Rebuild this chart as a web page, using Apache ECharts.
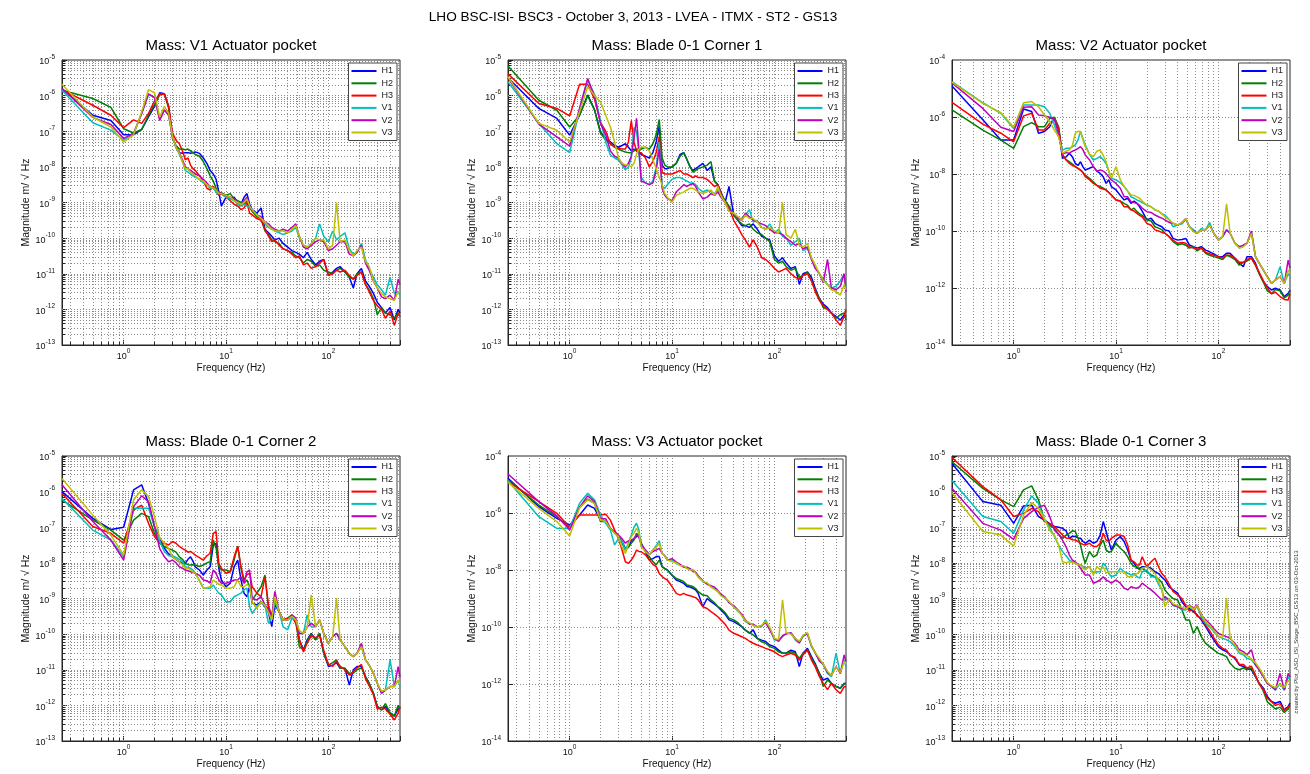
<!DOCTYPE html>
<html>
<head>
<meta charset="utf-8">
<script src="https://cdn.jsdelivr.net/npm/echarts@6/dist/echarts.min.js"></script>
<style>
  html, body { margin: 0; padding: 0; background: #fff; }
  #chart { width: 1310px; height: 774px; }
</style>
</head>
<body>
<div id="chart"></div>
<script>
// Frequency bins (Hz) shared by every spectrum
const FREQ = [
  0.25,0.5,0.75,1, 1.25,1.5,1.75,2, 2.25,2.5,2.75,3, 3.25,3.5,3.75,4,
  4.25,4.5,4.75,5, 5.5,6,6.5,7, 7.5,8,8.5,9,
  10,11,12,13,14, 15,16,17,18,
  20,22,24,26,28,30, 33,36,40,44,48,52,
  57,62,68,75,82,90, 100,110,120,130,145,160,
  175,190,210,230,250,275, 300,330,360,400,440,480,500
];

const CHANNELS = ['H1','H2','H3','V1','V2','V3'];
const CHANNEL_COLORS = ['#0000ff','#008000','#ff0000','#00bfbf','#bf00bf','#bfbf00'];
const MAIN_TITLE = 'LHO BSC-ISI- BSC3 - October 3, 2013 - LVEA - ITMX - ST2 - GS13';
const PANEL_TITLES = [
  'Mass: V1 Actuator pocket', 'Mass: Blade 0-1 Corner 1', 'Mass: V2 Actuator pocket',
  'Mass: Blade 0-1 Corner 2', 'Mass: V3 Actuator pocket', 'Mass: Blade 0-1 Corner 3'
];
const X_LABEL = 'Frequency (Hz)';
const Y_LABEL = 'Magnitude m/ \u221A Hz';
// Tick labels: powers of ten shown on each axis
const X_TICK_EXPONENTS = [0, 1, 2];
const Y_TICK_EXPONENTS_FINE = [-13,-12,-11,-10,-9,-8,-7,-6,-5];
const Y_TICK_EXPONENTS_COARSE = [-14,-12,-10,-8,-6,-4];

// ASD magnitudes, stored as log10(m/sqrt(Hz)), one value per FREQ bin

// V1 actuator pocket
const v1Pocket_H1 = [
  -5.8,-6.55,-6.7,-7.1, -7.1,-6.95,-6.6,-6.3, -5.92,-5.95,-6.3,-7.15, -7.45,-7.6,-7.62,-7.6,
  -7.6,-7.62,-7.6,-7.58, -7.62,-7.75,-7.9,-8.1, -8.2,-8.35,-8.7,-9.1,
  -8.85,-8.9,-8.85,-9.0,-9.05, -8.85,-8.75,-9.05,-9.2,
  -9.3,-9.15,-9.75,-9.85,-9.95,-10.05, -10.0,-10.15,-10.25,-10.35,-10.4,-10.45,
  -10.55,-10.4,-10.6,-10.75,-10.65,-10.6, -11.05,-10.95,-10.85,-10.8,-10.95,-11.1,
  -11.4,-11.0,-10.85,-11.2,-11.35,-11.55, -11.8,-11.95,-12.1,-11.95,-12.3,-12.0,-12.1];
const v1Pocket_H2 = [
  -5.85,-6.08,-6.33,-6.93, -7.05,-6.95,-6.55,-6.25, -5.98,-5.95,-6.35,-7.2, -7.4,-7.5,-7.5,-7.52,
  -7.5,-7.55,-7.6,-7.65, -7.7,-7.85,-8.05,-8.25, -8.4,-8.6,-8.75,-8.72,
  -8.8,-8.75,-8.9,-8.95,-9.0, -9.05,-8.95,-9.15,-9.25,
  -9.4,-9.45,-9.8,-9.9,-10.05,-10.1, -10.15,-10.3,-10.35,-10.4,-10.5,-10.55,
  -10.7,-10.6,-10.65,-10.8,-10.75,-10.9, -10.95,-11.0,-10.9,-10.85,-10.95,-11.1,
  -11.15,-11.0,-10.95,-11.3,-11.45,-11.7, -12.15,-11.95,-12.1,-12.15,-12.25,-12.1,-12.2];
const v1Pocket_H3 = [
  -5.83,-6.27,-6.55,-6.9, -6.68,-6.78,-6.5,-6.15, -5.95,-5.97,-6.3,-7.05, -7.25,-7.35,-7.55,-7.8,
  -7.75,-7.95,-8.05,-8.1, -8.25,-8.4,-8.6,-8.65, -8.55,-8.7,-8.8,-8.75,
  -8.85,-8.95,-9.05,-9.1,-9.2, -9.15,-9.0,-9.3,-9.35,
  -9.45,-9.5,-9.75,-9.95,-10.1,-10.05, -10.2,-10.3,-10.35,-10.45,-10.55,-10.5,
  -10.75,-10.7,-10.85,-10.8,-10.7,-10.6, -11.05,-11.0,-10.9,-10.95,-10.9,-11.05,
  -11.15,-11.05,-10.95,-11.3,-11.5,-11.75, -11.9,-12.0,-12.25,-12.05,-12.45,-12.1,-12.2];
const v1Pocket_V1 = [
  -5.85,-6.76,-6.97,-7.25, -7.08,-6.5,-5.97,-6.05, -6.65,-6.4,-6.55,-7.15, -7.45,-7.65,-7.85,-8.1,
  -8.15,-8.2,-8.25,-8.28, -8.35,-8.45,-8.5,-8.6, -8.6,-8.7,-8.75,-8.75,
  -8.85,-8.9,-8.95,-9.05,-9.1, -9.05,-9.1,-9.15,-9.2,
  -9.35,-9.45,-9.6,-9.7,-9.75,-9.8, -9.85,-9.9,-9.85,-9.8,-9.7,-10.0,
  -10.2,-10.25,-10.15,-10.0,-9.6,-9.95, -10.1,-9.8,-10.05,-9.95,-9.85,-10.3,
  -10.45,-10.4,-10.15,-10.6,-10.85,-11.1, -11.3,-11.45,-11.6,-11.1,-11.55,-11.5,-11.6];
const v1Pocket_V2 = [
  -5.8,-6.61,-6.81,-7.2, -7.06,-6.5,-5.95,-6.05, -6.7,-6.4,-6.55,-7.15, -7.45,-7.6,-7.8,-8.0,
  -8.05,-8.1,-8.15,-8.2, -8.25,-8.35,-8.45,-8.55, -8.6,-8.65,-8.7,-8.75,
  -8.8,-8.85,-8.9,-9.0,-9.05, -8.95,-8.85,-9.1,-9.2,
  -9.35,-9.4,-9.55,-9.6,-9.7,-9.75, -9.8,-9.75,-9.8,-9.7,-9.6,-9.95,
  -10.25,-10.3,-10.2,-10.1,-10.05,-10.1, -10.35,-10.3,-10.2,-10.1,-10.1,-10.45,
  -10.5,-10.4,-10.2,-10.7,-10.9,-11.2, -11.4,-11.65,-11.7,-11.6,-11.75,-11.15,-11.3];
const v1Pocket_V3 = [
  -5.68,-6.6,-6.88,-7.3, -7.1,-6.45,-5.83,-5.92, -6.6,-6.3,-6.5,-7.15, -7.45,-7.62,-7.85,-8.05,
  -8.05,-8.15,-8.2,-8.25, -8.35,-8.4,-8.5,-8.55, -8.6,-8.65,-8.75,-8.75,
  -8.8,-8.85,-8.95,-9.0,-9.05, -9.0,-8.9,-9.1,-9.2,
  -9.35,-9.45,-9.55,-9.65,-9.75,-9.8, -9.8,-9.8,-9.85,-9.75,-9.65,-9.95,
  -10.2,-10.25,-10.15,-10.0,-10.05,-10.05, -10.3,-10.2,-9.0,-10.1,-10.05,-10.35,
  -10.5,-10.35,-10.25,-10.65,-10.8,-11.2, -11.4,-11.55,-11.65,-11.7,-11.75,-11.5,-11.5];

// Blade 0-1 corner 1
const corner1_H1 = [
  -5.5,-6.36,-6.64,-7.11, -6.55,-5.98,-6.4,-7.02, -7.2,-7.3,-7.4,-7.45, -7.4,-7.35,-7.45,-7.55,
  -7.5,-7.55,-7.6,-7.65, -7.7,-7.75,-7.6,-7.3, -6.85,-7.95,-8.05,-8.05,
  -8.0,-7.9,-7.65,-7.6,-7.8, -8.0,-8.1,-8.05,-8.0,
  -7.9,-8.1,-8.0,-8.4,-8.5,-8.7, -9.0,-8.55,-9.35,-9.5,-9.65,-9.65,
  -9.7,-9.6,-9.75,-9.95,-10.0,-10.05, -10.5,-10.65,-10.55,-10.7,-10.85,-10.8,
  -11.3,-11.0,-10.95,-11.1,-11.4,-11.7, -11.85,-11.95,-12.1,-12.2,-12.3,-12.15,-12.2];
const corner1_H2 = [
  -5.17,-6.13,-6.41,-6.88, -6.55,-6.0,-6.4,-7.05, -7.25,-7.35,-7.45,-7.5, -7.55,-7.58,-7.6,-7.6,
  -7.55,-7.5,-7.5,-7.5, -7.45,-7.5,-7.35,-7.1, -6.67,-7.75,-7.95,-8.0,
  -8.0,-7.9,-7.7,-7.6,-7.8, -8.0,-8.15,-8.1,-8.05,
  -8.0,-7.95,-7.85,-8.4,-8.5,-8.75, -8.95,-9.1,-9.35,-9.5,-9.6,-9.65,
  -9.6,-9.75,-9.85,-9.9,-10.0,-10.1, -10.6,-10.7,-10.65,-10.8,-10.9,-10.85,
  -11.1,-11.05,-10.95,-11.2,-11.45,-11.7, -11.95,-12.0,-12.1,-12.25,-12.15,-12.1,-12.3];
const corner1_H3 = [
  -5.39,-6.22,-6.36,-6.57, -5.68,-5.68,-6.1,-6.75, -7.0,-7.35,-7.45,-7.48, -7.5,-7.5,-7.3,-6.7,
  -7.3,-7.55,-7.6,-7.6, -7.75,-8.0,-7.85,-7.6, -7.15,-8.15,-8.2,-8.2,
  -8.2,-8.15,-8.1,-8.2,-8.2, -8.25,-8.3,-8.25,-8.3,
  -8.3,-8.35,-8.45,-8.55,-8.5,-8.75, -9.0,-9.15,-9.5,-9.7,-9.9,-10.05,
  -10.25,-10.05,-10.25,-10.55,-10.6,-10.7, -10.85,-10.95,-10.9,-10.85,-11.0,-11.1,
  -11.15,-11.05,-11.0,-11.2,-11.5,-11.75, -11.9,-12.0,-12.1,-12.3,-12.45,-12.2,-12.0];
const corner1_V1 = [
  -5.61,-6.78,-7.35,-7.6, -6.4,-5.56,-5.97,-6.7, -7.3,-7.67,-7.75,-7.81, -7.95,-8.08,-8.0,-7.75,
  -6.9,-7.0,-7.6,-8.3, -8.45,-8.5,-8.4,-8.0, -7.3,-8.55,-8.6,-8.5,
  -8.35,-8.3,-8.3,-8.35,-8.4, -8.45,-8.45,-8.5,-8.6,
  -8.7,-8.65,-8.7,-8.75,-8.65,-8.8, -9.0,-9.2,-9.3,-9.45,-9.45,-9.35,
  -9.2,-9.55,-9.5,-9.7,-9.75,-9.6, -9.85,-9.75,-9.95,-10.0,-10.2,-10.1,
  -10.0,-10.35,-10.3,-10.55,-10.8,-11.0, -11.15,-11.3,-11.4,-11.35,-11.2,-11.0,-11.4];
const corner1_V2 = [
  -5.5,-6.8,-7.16,-7.42, -6.35,-5.52,-6.03,-6.78, -7.1,-7.55,-7.7,-7.76, -7.9,-8.0,-7.9,-7.7,
  -7.2,-6.64,-7.5,-8.4, -8.45,-8.5,-8.45,-8.1, -7.5,-8.6,-8.8,-8.89,
  -8.95,-8.7,-8.6,-8.5,-8.55, -8.5,-8.47,-8.55,-8.7,
  -8.9,-8.85,-8.75,-8.8,-8.7,-8.85, -9.0,-9.2,-9.3,-9.45,-9.5,-9.3,
  -9.4,-9.5,-9.55,-9.6,-9.65,-9.75, -9.85,-9.85,-9.9,-10.0,-10.1,-10.2,
  -10.15,-10.3,-10.25,-10.6,-10.85,-11.0, -11.25,-10.6,-11.4,-11.45,-11.35,-11.0,-11.5];
const corner1_V3 = [
  -5.47,-6.78,-6.97,-7.3, -6.45,-5.75,-6.0,-6.17, -6.55,-6.88,-7.3,-7.75, -7.9,-7.95,-7.95,-8.0,
  -7.9,-7.65,-7.5,-7.44, -7.45,-7.55,-7.8,-8.05, -8.3,-8.5,-8.75,-8.85,
  -8.99,-8.8,-8.75,-8.7,-8.65, -8.6,-8.6,-8.65,-8.7,
  -8.75,-8.7,-8.65,-8.8,-8.55,-8.8, -9.0,-9.25,-9.3,-9.4,-9.5,-9.35,
  -9.45,-9.45,-9.55,-9.7,-9.75,-9.7, -9.8,-9.85,-9.0,-9.9,-10.0,-9.75,
  -10.2,-10.25,-10.15,-10.55,-10.75,-11.0, -11.2,-11.3,-11.45,-11.5,-11.6,-11.3,-11.45];

// V2 actuator pocket
const v2Pocket_H1 = [
  -4.91,-6.1,-6.81,-6.81, -5.72,-5.81,-6.57,-6.51, -6.34,-6.01,-6.46,-7.45, -7.4,-7.27,-7.4,-7.63,
  -7.7,-7.57,-7.75,-7.86, -7.8,-7.74,-7.9,-7.98, -8.1,-8.33,-8.2,-8.44,
  -8.56,-8.75,-8.91,-8.85,-9.03, -8.95,-9.03,-9.15,-9.3,
  -9.61,-9.55,-9.73,-9.8,-9.85,-9.96, -10.0,-10.26,-10.32,-10.3,-10.26,-10.49,
  -10.55,-10.6,-10.55,-10.67,-10.73,-10.8, -10.9,-10.9,-10.78,-10.78,-10.96,-11.13,
  -11.25,-10.9,-10.9,-11.13,-11.49,-11.78, -11.95,-12.07,-12.01,-12.07,-12.3,-12.19,-12.07];
const v2Pocket_H2 = [
  -5.75,-6.46,-6.81,-7.1, -6.34,-6.2,-6.34,-6.34, -6.05,-6.01,-6.34,-7.33, -7.5,-7.57,-7.65,-7.74,
  -7.8,-7.86,-7.95,-8.04, -8.15,-8.27,-8.4,-8.44, -8.5,-8.56,-8.65,-8.74,
  -8.91,-8.95,-9.03,-9.1,-9.26, -9.2,-9.32,-9.4,-9.45,
  -9.61,-9.65,-9.85,-9.9,-9.95,-10.08, -10.2,-10.37,-10.49,-10.45,-10.5,-10.6,
  -10.55,-10.7,-10.6,-10.78,-10.85,-10.9, -10.95,-11.0,-10.85,-10.9,-11.0,-11.2,
  -11.1,-11.05,-10.95,-11.2,-11.5,-11.8, -12.1,-12.2,-12.05,-12.1,-12.35,-12.25,-12.1];
const v2Pocket_H3 = [
  -5.49,-6.25,-6.57,-6.87, -5.96,-5.87,-6.46,-6.46, -6.22,-6.08,-6.4,-7.33, -7.5,-7.63,-7.7,-7.74,
  -7.8,-7.86,-7.95,-8.09, -8.2,-8.33,-8.4,-8.5, -8.53,-8.56,-8.65,-8.74,
  -8.91,-8.95,-9.15,-9.15,-9.26, -9.3,-9.38,-9.45,-9.5,
  -9.73,-9.8,-9.96,-10.0,-10.05,-10.08, -10.2,-10.32,-10.43,-10.4,-10.43,-10.55,
  -10.6,-10.65,-10.6,-10.75,-10.8,-10.85, -10.9,-10.95,-10.85,-10.85,-10.95,-11.1,
  -11.1,-11.0,-10.95,-11.2,-11.45,-11.75, -12.0,-12.2,-12.15,-12.3,-12.4,-12.42,-12.2];
const v2Pocket_V1 = [
  -4.76,-5.5,-5.87,-6.4, -5.58,-5.58,-5.58,-5.64, -5.87,-6.28,-6.69,-7.16, -7.1,-7.1,-7.05,-6.98,
  -6.8,-6.51,-6.75,-6.98, -7.3,-7.51,-7.45,-7.39, -7.5,-7.63,-7.9,-8.15,
  -8.21,-8.3,-8.44,-8.6,-8.8, -8.85,-8.91,-8.95,-9.0,
  -9.09,-9.15,-9.26,-9.3,-9.4,-9.44, -9.6,-9.85,-9.79,-9.75,-9.6,-9.85,
  -9.95,-10.08,-9.91,-9.96,-9.7,-10.08, -10.3,-10.2,-9.96,-10.08,-10.43,-10.6,
  -10.5,-10.43,-10.05,-10.9,-11.13,-11.37, -11.6,-11.84,-11.72,-11.25,-11.84,-11.5,-11.6];
const v2Pocket_V2 = [
  -4.8,-5.7,-6.36,-6.51, -5.66,-5.64,-5.93,-5.96, -6.01,-6.08,-6.6,-7.3, -7.25,-7.27,-7.2,-7.16,
  -7.1,-7.04,-7.15,-7.33, -7.5,-7.74,-7.9,-7.86, -7.9,-7.98,-8.1,-8.21,
  -8.33,-8.5,-8.8,-8.8,-8.97, -9.0,-9.03,-9.1,-9.2,
  -9.32,-9.35,-9.44,-9.5,-9.55,-9.61, -9.7,-9.73,-9.79,-9.7,-9.56,-9.85,
  -10.0,-10.08,-9.96,-9.96,-9.79,-10.08, -10.32,-10.2,-9.96,-10.08,-10.43,-10.55,
  -10.5,-10.43,-10.0,-10.9,-11.13,-11.37, -11.6,-11.84,-11.72,-11.6,-11.84,-11.02,-11.3];
const v2Pocket_V3 = [
  -4.78,-5.52,-5.85,-6.36, -5.5,-5.46,-5.64,-5.93, -6.16,-6.46,-6.69,-7.27, -7.2,-7.16,-7.0,-6.57,
  -6.5,-6.51,-6.8,-7.04, -7.3,-7.39,-7.2,-7.16, -7.35,-7.57,-7.9,-8.15,
  -7.74,-8.2,-8.44,-8.6,-8.74, -8.75,-8.8,-8.85,-8.95,
  -9.09,-9.15,-9.26,-9.3,-9.4,-9.5, -9.6,-9.73,-9.79,-9.7,-9.56,-9.85,
  -10.02,-10.08,-9.96,-9.96,-9.79,-10.08, -10.32,-10.2,-9.05,-10.08,-10.43,-10.6,
  -10.55,-10.43,-10.08,-10.9,-11.13,-11.37, -11.6,-11.84,-11.72,-11.6,-11.84,-11.37,-11.49];

// Blade 0-1 corner 2
const corner2_H1 = [
  -6.0,-6.75,-7.06,-7.0, -5.95,-5.81,-6.33,-6.98, -7.3,-7.59,-7.75,-7.83, -7.9,-7.97,-8.0,-8.01,
  -7.9,-7.83,-7.95,-8.11, -8.2,-8.34,-8.2,-8.11, -7.5,-7.45,-8.15,-8.48,
  -8.67,-8.57,-8.11,-7.92,-8.48, -8.85,-8.95,-8.67,-9.13,
  -9.18,-9.09,-9.23,-9.4,-9.79,-9.18, -9.37,-9.6,-9.6,-9.51,-9.6,-10.16,
  -10.44,-10.16,-9.98,-10.16,-9.98,-10.54, -10.91,-10.87,-10.8,-10.96,-10.96,-11.43,
  -11.0,-10.91,-10.91,-11.19,-11.38,-11.66, -12.03,-12.13,-12.03,-12.22,-12.3,-12.1,-12.05];
const corner2_H2 = [
  -6.23,-6.8,-7.08,-7.36, -6.8,-6.61,-6.7,-7.17, -7.45,-7.54,-7.6,-7.64, -7.7,-7.83,-7.9,-8.01,
  -8.05,-8.06,-8.05,-8.06, -8.1,-8.06,-8.0,-7.97, -7.36,-7.59,-8.1,-8.2,
  -8.2,-8.25,-7.92,-7.53,-8.15, -8.57,-8.48,-8.67,-9.04,
  -8.85,-8.67,-8.34,-9.3,-9.51,-9.04, -9.37,-9.6,-9.55,-9.46,-9.6,-10.35,
  -10.44,-10.2,-10.0,-10.16,-9.98,-10.54, -10.87,-10.8,-10.72,-10.96,-10.96,-11.1,
  -11.1,-11.0,-10.95,-11.19,-11.38,-11.66, -12.03,-12.13,-11.95,-12.2,-12.3,-12.0,-12.1];
const corner2_H3 = [
  -6.05,-6.98,-7.17,-7.45, -6.52,-6.38,-6.89,-7.26, -7.45,-7.45,-7.5,-7.4, -7.45,-7.54,-7.6,-7.64,
  -7.7,-7.68,-7.73,-7.78, -7.85,-7.92,-7.8,-7.73, -7.17,-7.12,-8.01,-8.15,
  -8.29,-8.25,-7.83,-7.53,-8.11, -8.48,-8.34,-8.29,-8.67,
  -8.85,-8.95,-8.39,-9.2,-9.5,-8.99, -9.37,-9.6,-9.55,-9.51,-9.7,-10.16,
  -10.5,-10.25,-10.05,-10.1,-10.05,-10.45, -10.85,-10.9,-10.75,-10.9,-11.0,-11.15,
  -11.05,-10.95,-10.85,-11.25,-11.45,-11.7, -12.1,-12.05,-12.1,-12.25,-12.41,-12.22,-12.03];
const corner2_V1 = [
  -6.19,-7.08,-7.36,-7.83, -6.47,-6.47,-6.47,-6.98, -7.4,-7.68,-7.8,-7.8, -7.85,-7.9,-7.95,-8.11,
  -8.13,-8.15,-8.2,-8.29, -8.5,-8.71,-8.71,-8.71, -8.62,-8.75,-8.85,-8.9,
  -9.09,-9.09,-8.95,-8.9,-8.85, -8.75,-8.71,-9.23,-9.42,
  -9.23,-9.1,-9.2,-9.7,-9.55,-9.09, -9.37,-9.79,-9.88,-9.55,-9.6,-9.98,
  -9.98,-9.46,-9.8,-9.79,-9.6,-9.98, -10.26,-10.07,-9.98,-10.16,-10.35,-10.54,
  -10.63,-10.54,-10.35,-10.72,-10.87,-11.1, -11.38,-11.66,-11.57,-10.72,-11.47,-11.29,-11.47];
const corner2_V2 = [
  -5.81,-6.84,-7.36,-7.92, -6.42,-6.12,-6.28,-6.98, -7.6,-7.83,-7.97,-7.92, -8.0,-8.11,-8.15,-8.2,
  -8.22,-8.25,-8.27,-8.29, -8.35,-8.48,-8.5,-8.57, -8.2,-8.3,-8.48,-8.57,
  -8.57,-8.53,-8.48,-8.48,-8.39, -8.57,-8.25,-8.2,-9.0,
  -9.04,-8.95,-9.18,-9.3,-9.5,-8.8, -9.37,-9.6,-9.6,-9.46,-9.55,-9.98,
  -9.98,-9.8,-9.7,-9.79,-9.6,-9.98, -10.26,-10.07,-9.98,-10.16,-10.35,-10.54,
  -10.63,-10.54,-10.26,-10.72,-10.87,-11.1, -11.38,-11.66,-11.57,-11.47,-11.47,-10.91,-11.2];
const corner2_V3 = [
  -5.63,-6.66,-7.22,-7.78, -6.23,-5.95,-6.14,-6.7, -7.3,-7.45,-7.6,-7.83, -7.9,-7.97,-8.05,-8.15,
  -8.15,-8.2,-8.25,-8.29, -8.5,-8.71,-8.7,-8.67, -8.48,-8.55,-8.6,-8.62,
  -8.71,-8.71,-8.67,-8.48,-8.67, -8.67,-8.6,-8.67,-9.1,
  -9.28,-9.09,-9.2,-9.4,-9.6,-8.95, -9.37,-9.6,-9.6,-9.5,-9.6,-9.9,
  -9.98,-9.8,-8.9,-9.79,-9.6,-9.98, -10.26,-10.07,-8.99,-10.16,-10.35,-10.54,
  -10.63,-10.54,-10.35,-10.72,-10.87,-11.1, -11.38,-11.6,-11.57,-11.47,-11.47,-11.29,-11.4];

// V3 actuator pocket
const v3Pocket_H1 = [
  -4.78,-5.78,-6.19,-6.42, -6.07,-5.72,-5.84,-6.25, -6.3,-6.54,-6.7,-6.83, -7.0,-7.24,-7.2,-6.98,
  -6.9,-6.83,-6.8,-7.06, -7.36,-7.65,-7.6,-7.53, -7.53,-7.88,-7.95,-8.0,
  -8.18,-8.35,-8.41,-8.47,-8.58, -8.6,-8.64,-8.7,-8.82,
  -9.29,-9.0,-9.11,-9.2,-9.29,-9.4, -9.55,-9.75,-9.81,-9.9,-9.99,-10.11,
  -10.22,-10.1,-10.4,-10.46,-10.51,-10.63, -10.69,-10.81,-10.92,-10.92,-10.81,-10.87,
  -11.39,-10.92,-10.75,-11.04,-11.28,-11.63, -11.86,-11.8,-11.98,-12.09,-12.15,-11.98,-11.98];
const v3Pocket_H2 = [
  -4.84,-5.72,-6.13,-6.54, -5.8,-5.51,-5.66,-6.3, -6.3,-6.54,-6.7,-6.83, -7.05,-7.3,-7.2,-7.06,
  -6.95,-6.71,-6.8,-7.06, -7.36,-7.53,-7.7,-7.82, -7.65,-7.88,-7.95,-8.0,
  -8.18,-8.3,-8.35,-8.41,-8.53, -8.55,-8.58,-8.65,-8.76,
  -8.88,-8.9,-9.05,-9.15,-9.29,-9.35, -9.5,-9.69,-9.75,-9.85,-9.99,-10.11,
  -10.2,-10.28,-10.4,-10.52,-10.57,-10.69, -10.75,-10.87,-10.92,-10.92,-10.87,-10.92,
  -11.1,-10.92,-10.81,-11.1,-11.33,-11.63, -12.09,-11.86,-11.98,-12.09,-12.15,-11.98,-11.98];
const v3Pocket_H3 = [
  -4.9,-5.6,-6.01,-6.5, -6.07,-6.07,-6.07,-6.07, -6.04,-6.25,-6.6,-6.89, -7.3,-7.71,-7.77,-7.65,
  -7.5,-7.3,-7.35,-7.36, -7.47,-7.65,-7.8,-7.88, -8.12,-8.23,-8.3,-8.35,
  -8.58,-8.82,-8.88,-8.82,-8.88, -8.9,-8.94,-8.97,-9.05,
  -9.29,-9.35,-9.46,-9.55,-9.64,-9.75, -9.9,-10.11,-10.22,-10.28,-10.34,-10.4,
  -10.5,-10.57,-10.63,-10.69,-10.75,-10.8, -10.87,-10.98,-11.04,-10.98,-10.92,-10.98,
  -11.16,-10.98,-10.81,-11.16,-11.39,-11.74, -11.98,-12.2,-11.98,-12.2,-12.33,-12.09,-12.1];
const v3Pocket_V1 = [
  -4.87,-6.13,-6.54,-6.54, -5.66,-5.31,-5.54,-6.07, -6.36,-6.6,-7.12,-6.89, -7.0,-7.3,-7.05,-6.77,
  -6.5,-6.36,-6.6,-7.18, -7.3,-7.47,-7.3,-7.15, -6.97,-7.42,-7.5,-7.65,
  -7.65,-7.77,-7.82,-7.88,-7.94, -7.97,-8.0,-8.1,-8.23,
  -8.41,-8.47,-8.58,-8.65,-8.76,-8.88, -9.0,-9.11,-9.29,-9.45,-9.58,-9.81,
  -9.87,-9.93,-9.99,-9.99,-9.75,-10.05, -10.46,-10.46,-10.34,-10.22,-10.22,-10.46,
  -10.57,-10.34,-10.22,-10.69,-10.92,-11.16, -11.33,-11.63,-11.74,-10.92,-11.63,-11.16,-11.4];
const v3Pocket_V2 = [
  -4.63,-5.6,-6.1,-6.6, -5.8,-5.4,-5.6,-6.19, -6.2,-6.54,-6.65,-6.77, -6.9,-7.06,-6.98,-6.95,
  -6.9,-6.77,-6.85,-7.1, -7.3,-7.45,-7.35,-7.3, -7.24,-7.42,-7.5,-7.65,
  -7.6,-7.72,-7.8,-7.9,-7.9, -7.95,-8.05,-8.08,-8.2,
  -8.38,-8.5,-8.55,-8.6,-8.72,-8.85, -8.95,-9.15,-9.25,-9.4,-9.55,-9.75,
  -9.9,-9.9,-10.0,-9.95,-9.85,-10.1, -10.4,-10.5,-10.3,-10.25,-10.2,-10.4,
  -10.55,-10.3,-10.25,-10.65,-10.9,-11.2, -11.3,-11.6,-11.7,-11.39,-11.63,-10.98,-11.2];
const v3Pocket_V3 = [
  -4.92,-5.84,-6.3,-6.81, -5.82,-5.54,-5.66,-6.25, -6.3,-6.54,-6.71,-6.83, -7.2,-7.42,-7.1,-6.83,
  -6.7,-6.54,-6.7,-7.18, -7.36,-7.47,-7.3,-7.2, -7.06,-7.42,-7.5,-7.65,
  -7.7,-7.75,-7.85,-7.85,-7.95, -8.0,-7.98,-8.12,-8.25,
  -8.4,-8.45,-8.6,-8.68,-8.75,-8.9, -8.98,-9.1,-9.3,-9.42,-9.6,-9.78,
  -9.85,-9.95,-10.0,-9.95,-9.8,-10.0, -10.4,-10.45,-9.05,-10.2,-10.25,-10.4,
  -10.5,-10.3,-10.2,-10.65,-10.9,-11.1, -11.3,-11.55,-11.7,-11.4,-11.6,-11.2,-11.3];

// Blade 0-1 corner 3
const corner3_H1 = [
  -5.21,-6.28,-6.38,-6.89, -6.4,-6.38,-6.7,-6.8, -6.9,-6.98,-7.0,-7.03, -7.1,-7.31,-7.25,-7.26,
  -7.3,-7.31,-7.4,-7.45, -7.36,-7.45,-7.4,-7.22, -6.84,-7.12,-7.4,-7.64,
  -7.36,-7.26,-7.4,-7.64,-7.92, -8.01,-8.15,-8.15,-8.11,
  -8.11,-8.15,-8.25,-8.3,-8.4,-8.48, -8.67,-8.76,-8.85,-9.09,-9.23,-9.28,
  -9.37,-9.46,-9.6,-9.79,-9.98,-10.16, -10.35,-10.44,-10.49,-10.58,-10.68,-10.87,
  -10.91,-10.96,-11.0,-11.19,-11.38,-11.52, -11.75,-11.89,-11.94,-11.89,-12.13,-12.03,-11.94];
const corner3_H2 = [
  -5.16,-5.91,-6.23,-6.42, -5.95,-5.84,-6.23,-6.8, -6.95,-7.03,-7.2,-7.31, -7.22,-7.17,-7.1,-7.12,
  -7.3,-7.5,-7.8,-8.01, -7.68,-7.83,-7.78,-7.5, -7.36,-7.64,-7.7,-7.68,
  -7.45,-7.59,-7.68,-7.83,-8.01, -8.1,-8.11,-8.2,-8.15,
  -8.25,-8.34,-8.39,-8.45,-8.55,-8.76, -8.9,-9.0,-9.04,-9.32,-9.6,-9.6,
  -9.98,-9.79,-10.07,-10.26,-10.35,-10.44, -10.54,-10.58,-10.63,-10.82,-10.96,-11.0,
  -10.95,-11.0,-10.95,-11.19,-11.38,-11.6, -11.9,-12.0,-12.1,-12.05,-12.2,-12.1,-12.0];
const corner3_H3 = [
  -5.04,-5.86,-6.23,-6.7, -6.61,-6.47,-6.56,-6.84, -6.9,-6.98,-7.1,-7.22, -7.3,-7.31,-7.35,-7.36,
  -7.4,-7.45,-7.48,-7.5, -7.45,-7.54,-7.54,-7.45, -7.17,-7.36,-7.4,-7.31,
  -7.22,-7.22,-7.26,-7.5,-7.92, -7.97,-8.06,-8.06,-7.83,
  -8.11,-7.97,-7.87,-8.11,-8.3,-8.39, -8.6,-8.8,-8.9,-9.0,-9.2,-9.35,
  -9.3,-9.5,-9.55,-9.75,-9.9,-10.1, -10.3,-10.4,-10.45,-10.6,-10.65,-10.85,
  -10.85,-10.95,-10.9,-11.15,-11.4,-11.55, -11.8,-11.9,-12.0,-11.95,-12.15,-12.05,-12.0];
const corner3_V1 = [
  -5.69,-6.7,-6.84,-7.17, -6.52,-6.12,-6.33,-6.8, -7.0,-7.26,-7.5,-7.68, -7.8,-7.92,-7.97,-8.01,
  -8.03,-8.06,-8.1,-8.15, -8.11,-8.29,-8.25,-8.25, -8.01,-8.11,-8.3,-8.39,
  -8.34,-8.15,-8.25,-8.29,-8.34, -8.3,-8.39,-8.43,-8.25,
  -8.2,-8.39,-8.39,-8.6,-8.76,-9.04, -9.0,-9.2,-9.23,-9.32,-9.32,-9.23,
  -9.32,-9.23,-9.51,-9.7,-9.79,-9.93, -10.07,-10.12,-10.16,-10.21,-10.35,-10.54,
  -10.58,-10.68,-10.72,-10.87,-11.0,-11.19, -11.38,-11.47,-11.57,-11.38,-11.57,-11.19,-11.29];
const corner3_V2 = [
  -5.91,-6.89,-7.08,-7.34, -6.75,-6.56,-6.44,-6.38, -6.7,-7.08,-7.2,-7.36, -7.55,-7.78,-7.92,-7.97,
  -8.05,-8.15,-8.25,-8.34, -8.34,-8.57,-8.53,-8.48, -8.39,-8.48,-8.52,-8.57,
  -8.48,-8.57,-8.71,-8.76,-8.67, -8.7,-8.71,-8.67,-8.57,
  -8.67,-8.76,-8.85,-8.95,-9.04,-8.95, -9.04,-9.18,-9.23,-9.28,-9.28,-9.18,
  -9.28,-9.18,-9.46,-9.6,-9.7,-9.84, -9.98,-10.03,-10.07,-10.12,-10.26,-10.44,
  -10.49,-10.58,-10.44,-10.87,-11.0,-11.19, -11.38,-11.47,-11.57,-11.1,-11.57,-11.1,-11.2];
const corner3_V3 = [
  -6.03,-7.12,-7.22,-7.53, -6.66,-6.31,-6.47,-6.75, -7.1,-7.22,-7.5,-7.97, -8.0,-7.97,-7.99,-8.01,
  -8.05,-8.06,-8.15,-8.2, -8.1,-8.34,-8.1,-8.2, -8.11,-8.29,-8.25,-8.25,
  -8.25,-8.25,-8.25,-8.39,-8.39, -8.35,-8.3,-8.25,-8.15,
  -8.11,-8.2,-8.29,-8.5,-8.76,-9.23, -9.0,-9.15,-9.2,-9.25,-9.3,-9.2,
  -9.3,-9.2,-9.45,-9.65,-9.75,-9.9, -10.05,-10.1,-8.99,-10.1,-10.3,-10.5,
  -10.55,-10.6,-10.7,-10.8,-10.95,-11.15, -11.35,-11.45,-11.5,-11.4,-11.5,-11.3,-11.35];

const PANEL_SERIES = [
  [v1Pocket_H1, v1Pocket_H2, v1Pocket_H3, v1Pocket_V1, v1Pocket_V2, v1Pocket_V3],
  [corner1_H1, corner1_H2, corner1_H3, corner1_V1, corner1_V2, corner1_V3],
  [v2Pocket_H1, v2Pocket_H2, v2Pocket_H3, v2Pocket_V1, v2Pocket_V2, v2Pocket_V3],
  [corner2_H1, corner2_H2, corner2_H3, corner2_V1, corner2_V2, corner2_V3],
  [v3Pocket_H1, v3Pocket_H2, v3Pocket_H3, v3Pocket_V1, v3Pocket_V2, v3Pocket_V3],
  [corner3_H1, corner3_H2, corner3_H3, corner3_V1, corner3_V2, corner3_V3]
];
// y-axis decade range and labelled decades for each panel
const PANEL_DECADES = [[-13,-5],[-13,-5],[-14,-4],[-13,-5],[-14,-4],[-13,-5]];
const PANEL_Y_TICKS = [Y_TICK_EXPONENTS_FINE, Y_TICK_EXPONENTS_FINE, Y_TICK_EXPONENTS_COARSE,
                       Y_TICK_EXPONENTS_FINE, Y_TICK_EXPONENTS_COARSE, Y_TICK_EXPONENTS_FINE];

PANEL_SERIES.forEach((set, p) => set.forEach((arr, c) => {
  if (arr.length !== FREQ.length) throw new Error('panel ' + p + ' ' + CHANNELS[c] + ' has ' + arr.length);
}));

// ---------- layout ----------
const FONT = '"Liberation Sans", Arial, Helvetica, sans-serif';
const PLOT_W = 338, PLOT_H = 285;
const COL_LEFT = [62, 508, 952];
const ROW_TOP = [60, 456];
const X_MIN = 0.25, X_MAX = 500;

const AXIS_COLOR = '#262626';
const GRID_LINE = { color: '#8a8a8a', type: [1, 2], width: 1 };
const TICK_LINE = { color: AXIS_COLOR, type: 'solid', width: 1 };

const powRich = {
  b: { fontSize: 9, fontFamily: FONT, color: '#111', lineHeight: 13, verticalAlign: 'bottom' },
  s: { fontSize: 6.5, fontFamily: FONT, color: '#111', lineHeight: 7, verticalAlign: 'top' }
};
function powLabel(value, allowed) {
  const e = Math.log10(value);
  const r = Math.round(e);
  if (Math.abs(e - r) > 0.01 || allowed.indexOf(r) < 0) return '';
  return '{b|10}{s|' + r + '}';
}

// Dotted log grid plus the small inward ticks at the 2..9 positions
function gridLineData(p) {
  const lines = [];
  const [lo, hi] = PANEL_DECADES[p];
  const yMin = Math.pow(10, lo);
  const dense = PANEL_Y_TICKS[p] === Y_TICK_EXPONENTS_FINE;
  const pxPerDecY = PLOT_H / (hi - lo);
  const pxPerDecX = PLOT_W / Math.log10(X_MAX / X_MIN);
  const tickY = len => yMin * Math.pow(10, len / pxPerDecY);
  const tickX = len => X_MIN * Math.pow(10, len / pxPerDecX);

  for (let d = -1; d <= 2; d++) {
    for (let k = 1; k <= 9; k++) {
      const v = k * Math.pow(10, d);
      if (v > X_MIN * 1.01 && v < X_MAX * 0.99) {
        lines.push({ xAxis: v });
        if (k !== 1) lines.push([{ coord: [v, yMin], lineStyle: TICK_LINE }, { coord: [v, tickY(3)] }]);
      }
    }
  }
  for (let d = lo; d < hi; d++) {
    if (dense) {
      for (let k = 1; k <= 9; k++) {
        if (k === 1 && d === lo) continue;
        const v = k * Math.pow(10, d);
        lines.push({ yAxis: v });
        if (k !== 1) lines.push([{ coord: [X_MIN, v], lineStyle: TICK_LINE }, { coord: [tickX(3), v] }]);
      }
    } else if (PANEL_Y_TICKS[p].indexOf(d) >= 0) {
      const v = Math.pow(10, d);
      if (d > lo) lines.push({ yAxis: v });
      lines.push([{ coord: [X_MIN, v], lineStyle: TICK_LINE }, { coord: [tickX(5), v] }]);
    }
  }
  return lines;
}

const option = {
  animation: false,
  backgroundColor: '#ffffff',
  textStyle: { fontFamily: FONT },
  grid: [], xAxis: [], yAxis: [], legend: [], series: [],
  graphic: [{
    type: 'text', x: 633, y: 17, silent: true,
    style: {
      text: MAIN_TITLE, fontSize: 13.6, fontFamily: FONT, fill: '#000',
      textAlign: 'center', textVerticalAlign: 'middle', align: 'center', verticalAlign: 'middle'
    }
  }]
};

for (let p = 0; p < 6; p++) {
  const col = p % 3, row = Math.floor(p / 3);
  const left = COL_LEFT[col], top = ROW_TOP[row];
  const [lo, hi] = PANEL_DECADES[p];
  const yTicks = PANEL_Y_TICKS[p];
  const coarse = yTicks === Y_TICK_EXPONENTS_COARSE;
  // a hair above the lower decade keeps the log scale on one-decade steps
  const yMin = coarse ? Math.pow(10, lo + 0.0002) : Math.pow(10, lo);

  option.grid.push({
    left: left, top: top, width: PLOT_W, height: PLOT_H,
    show: true, borderColor: AXIS_COLOR, borderWidth: 1, backgroundColor: 'transparent'
  });
  option.xAxis.push({
    type: 'log', logBase: 10, gridIndex: p, min: X_MIN, max: X_MAX,
    name: X_LABEL, nameLocation: 'middle', nameGap: 18,
    nameTextStyle: { fontSize: 10, color: '#111', fontFamily: FONT },
    axisLine: { show: true, lineStyle: { color: AXIS_COLOR, width: 1 } },
    axisTick: { show: true, inside: true, length: 5, lineStyle: { color: AXIS_COLOR } },
    splitLine: { show: false },
    axisLabel: {
      margin: 3, formatter: v => powLabel(v, X_TICK_EXPONENTS), rich: powRich,
      showMinLabel: true, showMaxLabel: true, hideOverlap: false
    }
  });
  option.yAxis.push({
    type: 'log', logBase: 10, gridIndex: p, min: yMin, max: Math.pow(10, hi),
    name: Y_LABEL, nameLocation: 'middle', nameGap: 25, nameRotate: 90,
    nameTextStyle: { fontSize: 10.5, color: '#111', fontFamily: FONT },
    axisLine: { show: true, lineStyle: { color: AXIS_COLOR, width: 1 } },
    axisTick: { show: !coarse, inside: true, length: 5, lineStyle: { color: AXIS_COLOR } },
    splitLine: { show: false },
    axisLabel: {
      margin: 7, formatter: v => powLabel(v, yTicks), rich: powRich,
      showMinLabel: true, showMaxLabel: true, hideOverlap: false
    }
  });

  option.series.push({
    type: 'line', name: 'grid' + p, xAxisIndex: p, yAxisIndex: p, data: [],
    silent: true, z: 1,
    markLine: {
      silent: true, z: 1, symbol: ['none', 'none'], animation: false, precision: 20,
      label: { show: false }, emphasis: { disabled: true },
      lineStyle: GRID_LINE, data: gridLineData(p)
    }
  });

  PANEL_SERIES[p].forEach((arr, c) => {
    option.series.push({
      type: 'line', name: CHANNELS[c], xAxisIndex: p, yAxisIndex: p,
      data: FREQ.map((f, i) => [f, Math.pow(10, arr[i])]),
      showSymbol: false, symbol: 'none', silent: true, z: 3 + c,
      lineStyle: { width: 1.5, color: CHANNEL_COLORS[c] },
      itemStyle: { color: CHANNEL_COLORS[c] },
      emphasis: { disabled: true }
    });
  });

  option.legend.push({
    data: CHANNELS, orient: 'vertical', selectedMode: false,
    right: 1310 - (left + PLOT_W) + 3, top: top + 3,
    icon: 'rect', itemWidth: 25, itemHeight: 2, itemGap: 2.3,
    padding: [3, 4, 3, 3],
    backgroundColor: '#ffffff', borderColor: '#444', borderWidth: 1,
    textStyle: { fontSize: 9, lineHeight: 10, color: '#222', fontFamily: FONT }
  });

  option.graphic.push({
    type: 'text', x: left + PLOT_W / 2, y: top - 14, silent: true,
    style: {
      text: PANEL_TITLES[p], fontSize: 15, fontFamily: FONT, fill: '#000',
      textAlign: 'center', textVerticalAlign: 'middle', align: 'center', verticalAlign: 'middle'
    }
  });
}

option.graphic.push({
  type: 'text', x: 1296, y: 632, rotation: Math.PI / 2, silent: true,
  style: {
    text: 'created by Plot_ASD_ISI_Stage_BSC_GS13 on 03-Oct-2013', fontSize: 6, fontFamily: FONT, fill: '#333',
    textAlign: 'center', textVerticalAlign: 'middle', align: 'center', verticalAlign: 'middle'
  }
});

const chart = echarts.init(document.getElementById('chart'), null, { renderer: 'canvas' });
chart.setOption(option);
</script>
</body>
</html>
